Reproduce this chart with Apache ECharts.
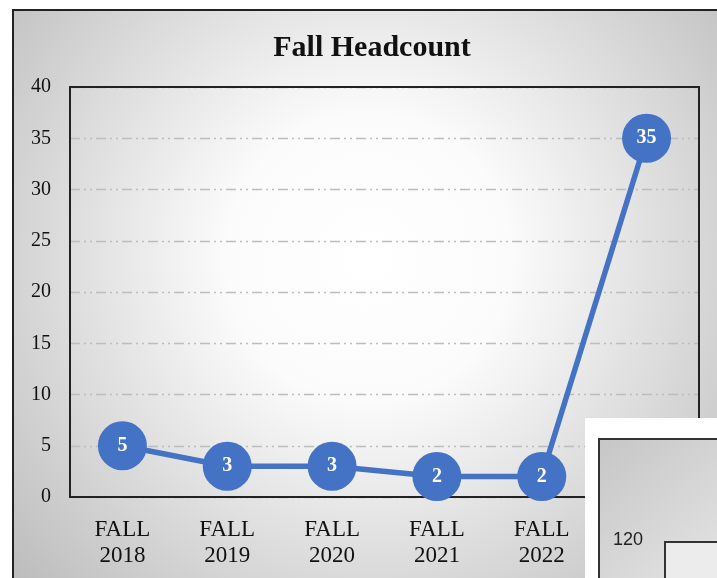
<!DOCTYPE html>
<html>
<head>
<meta charset="utf-8">
<script src="https://cdn.jsdelivr.net/npm/echarts@6/dist/echarts.min.js"></script>
<style>html,body{margin:0;padding:0;background:#fff;}#c{width:717px;height:578px;}</style>
</head>
<body>
<div id="c"></div>
<script>
const categories = ['FALL\n2018','FALL\n2019','FALL\n2020','FALL\n2021','FALL\n2022','FALL\n2023'];
const headcount = [5, 3, 3, 2, 2, 35];
const yTicks = { min: 0, max: 40, interval: 5 };
const title = 'Fall Headcount';
const overlayTick = '120';

const chart = echarts.init(document.getElementById('c'), null, {renderer:'canvas'});
const serif = '"Liberation Serif","Times New Roman",serif';
chart.setOption({
  backgroundColor: '#ffffff',
  animation: false,
  title: {
    text: title, left: 367, top: 28, textAlign: 'center',
    textStyle: { fontFamily: serif, fontSize: 30, fontWeight: 'bold', color: '#111' }
  },
  grid: { left: 70, top: 87, right: 18, bottom: 81, show: true, borderColor: '#222', borderWidth: 2, backgroundColor: 'transparent', z: 3 },
  xAxis: {
    type: 'category', data: categories, boundaryGap: true,
    axisLine: { show: true, lineStyle: { color: '#333', width: 2 } },
    axisTick: { show: false },
    axisLabel: { margin: 20, fontFamily: serif, fontSize: 23, lineHeight: 26, color: '#111' },
    splitLine: { show: false }
  },
  yAxis: {
    type: 'value', min: yTicks.min, max: yTicks.max, interval: yTicks.interval,
    axisLine: { show: false }, axisTick: { show: false },
    axisLabel: { margin: 19, fontFamily: serif, fontSize: 20, color: '#111' },
    splitLine: { show: true, lineStyle: { color: '#bdbdbd', width: 1.3, type: [10, 4, 2, 4, 2, 4] } }
  },
  series: [{
    type: 'line', data: headcount, z: 5,
    symbol: 'circle', symbolSize: 49,
    itemStyle: { color: '#4472C4' },
    lineStyle: { color: '#4472C4', width: 5.5 },
    label: { show: true, position: 'inside', color: '#fff', fontFamily: serif, fontWeight: 'bold', fontSize: 20 }
  }],
  graphic: [
    { type: 'rect', z: -10, silent: true,
      shape: { x: 13, y: 10, width: 710, height: 590 },
      style: { stroke: '#222', lineWidth: 2,
        fill: { type: 'radial', x: 0.5, y: 0.42, r: 0.8,
          colorStops: [ {offset: 0, color: '#ffffff'}, {offset: 0.3, color: '#fbfbfb'}, {offset: 1, color: '#bdbdbd'} ] } } },
    { type: 'rect', z: 100, silent: true,
      shape: { x: 585, y: 418, width: 140, height: 170 }, style: { fill: '#ffffff' } },
    { type: 'rect', z: 101, silent: true,
      shape: { x: 599, y: 439, width: 130, height: 150 },
      style: { stroke: '#333', lineWidth: 2,
        fill: { type: 'linear', x: 0, y: 0, x2: 1, y2: 1,
          colorStops: [ {offset: 0, color: '#c6c6c6'}, {offset: 1, color: '#e6e6e6'} ] } } },
    { type: 'text', z: 102, silent: true,
      style: { x: 613, y: 540, text: overlayTick, fill: '#222', font: '18px "Liberation Sans", Arial, sans-serif', textVerticalAlign: 'middle' } },
    { type: 'rect', z: 102, silent: true,
      shape: { x: 665, y: 542, width: 70, height: 50 },
      style: { stroke: '#333', lineWidth: 2, fill: '#ececec' } }
  ]
});
</script>
</body>
</html>
